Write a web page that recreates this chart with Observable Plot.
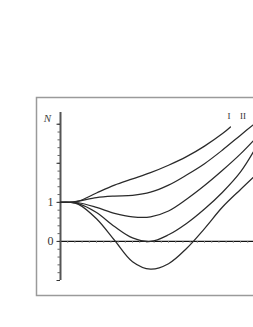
<!DOCTYPE html>
<html>
<head>
<meta charset="utf-8">
<script src="https://cdn.jsdelivr.net/npm/d3@7"></script>
<script src="https://cdn.jsdelivr.net/npm/@observablehq/plot@0.6"></script>
<style>
  html, body { margin: 0; padding: 0; background: #fff; overflow: hidden; }
  svg { display: block; }
</style>
</head>
<body>
<div id="chart"></div>
<script>
// Time-like abscissa samples
const tValues = [0, 0.25, 0.5, 1, 1.5, 2, 2.5, 3, 3.5, 4, 4.5, 5, 5.4];

// Five curves N(t), top to bottom
const curveIt  = [0, 0.25, 0.5, 1, 1.5, 2, 2.5, 3, 3.5, 4, 4.5, 4.72];
const curveI   = [1, 1.0, 1.03, 1.24, 1.44, 1.6, 1.76, 1.95, 2.17, 2.44, 2.76, 2.93];
const curveII  = [1, 1.0, 1.03, 1.12, 1.16, 1.18, 1.26, 1.44, 1.70, 1.99, 2.34, 2.72, 3.02];
const curveIII = [1, 1.0, 0.99, 0.87, 0.72, 0.63, 0.63, 0.78, 1.08, 1.43, 1.82, 2.24, 2.62];
const curveIV  = [1, 1.0, 0.97, 0.74, 0.38, 0.09, 0.0, 0.17, 0.46, 0.83, 1.26, 1.78, 2.36];
const curveV   = [1, 1.0, 0.95, 0.58, 0.03, -0.52, -0.71, -0.57, -0.18, 0.33, 0.88, 1.33, 1.68];

// Axis ticks
const yMinorTicks = d3.range(-1, 3.001, 0.2).map(v => +v.toFixed(1));
const yMajorTicks = [-1, 0, 1, 2, 3];
const yLabelTicks = [0, 1];
const xMinorTicks = d3.range(0.2, 5.4, 0.2).map(v => +v.toFixed(1));
const yAxisSpan = [-1, 3.3];

// Curve labels
const curveLabels = ["I", "II"];
const labelT = [4.68, 5.07];
const labelN = [3.2, 3.2];

const series = [];
const addSeries = (name, ts, ns) => ns.forEach((n, i) => series.push({name, t: ts[i], n}));
addSeries("I", curveIt, curveI);
addSeries("II", tValues, curveII);
addSeries("III", tValues, curveIII);
addSeries("IV", tValues, curveIV);
addSeries("V", tValues, curveV);

const labelData = curveLabels.map((s, i) => ({s, t: labelT[i], n: labelN[i]}));

const serif = "'Liberation Serif', 'Times New Roman', serif";

const chart = Plot.plot({
  width: 253,
  height: 327,
  marginLeft: 60,
  marginRight: 0,
  marginTop: 112,
  marginBottom: 47,
  x: {domain: [0, 5.36], axis: null},
  y: {domain: yAxisSpan, axis: null},
  style: {fontFamily: serif, background: "#fff"},
  marks: [
    Plot.frame({stroke: "#9a9a9a", strokeWidth: 1.5, insetLeft: -24, insetTop: -15, insetBottom: -15, insetRight: -20}),
    // x axis line at N = 0
    Plot.ruleY([0], {stroke: "#111", strokeWidth: 1.3}),
    Plot.ruleX(xMinorTicks, {y1: 0, y2: -0.045, stroke: "#777", strokeWidth: 1}),
    // y axis
    Plot.ruleX([0], {y1: yAxisSpan[0], y2: yAxisSpan[1], stroke: "#555", strokeWidth: 2}),
    Plot.axisY({ticks: yMinorTicks, tickSize: 2.5, tickFormat: () => "", label: null, stroke: "#666"}),
    Plot.axisY({ticks: yMajorTicks, tickSize: 3.5, tickFormat: () => "", label: null, stroke: "#333"}),
    Plot.axisY({ticks: yLabelTicks, tickSize: 0, tickPadding: 7, tickFormat: d => String(d), label: null, fontSize: 12, fill: "#333", fontFamily: serif}),
    // curves
    Plot.line(series, {x: "t", y: "n", z: "name", stroke: "#2a2a2a", strokeWidth: 1.25, curve: "catmull-rom", clip: true}),
    // labels
    Plot.text(labelData, {x: "t", y: "n", text: "s", fontSize: 9, fill: "#333", fontFamily: serif}),
    Plot.text(["N"], {frameAnchor: "top-left", text: d => d, dx: -13, dy: 2, textAnchor: "middle", fontStyle: "italic", fontSize: 11, fill: "#444", fontFamily: serif})
  ]
});
document.getElementById("chart").appendChild(chart);
</script>
</body>
</html>
